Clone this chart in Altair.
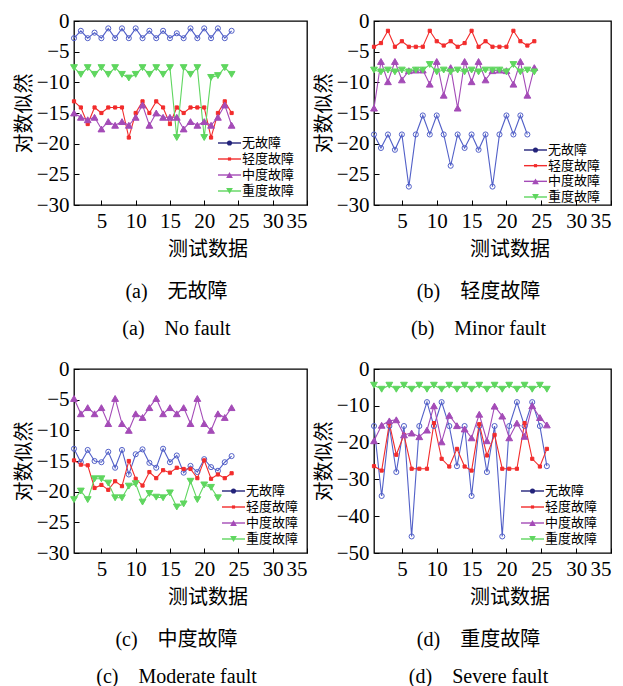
import altair as alt
import pandas as pd

series_names = ["无故障", "轻度故障", "中度故障", "重度故障"]
line_colors = ["#5260c8", "#f22c2c", "#a44bb7", "#5fd65f"]
legend_colors = ["#23237a", "#f22c2c", "#a44bb7", "#5fd65f"]
marker_shapes = ["circle", "square", "triangle-up", "triangle-down"]
marker_fills = ["transparent", "#f22c2c", "#a44bb7", "#5fd65f"]
marker_sizes = [26, 10, 46, 46]
x_ticks = [5, 10, 15, 20, 25, 30, 35]

# (a) 无故障
a_x = list(range(1, 25))
a_none = [-2.8, -1.6, -2.8, -1.9, -2.8, -1.2, -2.8, -1.2, -2.8, -1.2, -2.8, -1.6,
          -2.8, -1.6, -2.8, -2.0, -2.8, -1.2, -2.8, -1.2, -2.8, -1.2, -2.8, -1.6]
a_minor = [-13.1, -14.1, -16.8, -14.1, -15.0, -14.1, -14.1, -14.1, -19.0, -15.0, -13.1, -15.0,
           -13.1, -14.1, -16.8, -14.1, -15.0, -14.1, -14.1, -14.1, -19.0, -15.0, -13.1, -15.0]
a_moderate = [-15.0, -15.7, -16.1, -15.7, -17.6, -16.4, -17.0, -16.4, -17.0, -15.7, -13.7, -17.0,
              -15.0, -15.7, -15.7, -15.7, -17.6, -16.4, -17.0, -16.4, -17.0, -15.7, -13.7, -17.0]
a_severe = [-7.6, -8.7, -7.6, -8.7, -7.6, -8.7, -7.6, -8.7, -9.3, -8.7, -7.6, -8.7,
            -7.6, -8.7, -7.6, -19.0, -7.6, -8.7, -7.6, -19.0, -9.2, -8.9, -7.6, -8.7]

# (b) 轻度故障
b_x = list(range(1, 25))
b_none = [-18.5, -20.7, -18.5, -21.0, -18.5, -27.0, -18.5, -15.4, -18.5, -15.4, -18.5, -23.6,
          -18.5, -20.7, -18.5, -21.0, -18.5, -27.0, -18.5, -15.4, -18.5, -15.4, -18.5]
b_minor = [-4.2, -3.6, -1.6, -4.2, -3.3, -4.2, -4.2, -4.2, -1.6, -3.3, -4.0, -3.3,
           -4.2, -3.6, -1.6, -4.2, -3.3, -4.2, -4.2, -4.2, -1.6, -3.3, -4.0, -3.3]
b_moderate = [-14.2, -6.6, -9.9, -6.6, -9.6, -8.1, -8.0, -8.0, -10.3, -6.6, -12.1, -7.6,
              -14.2, -6.6, -9.9, -6.6, -9.6, -8.1, -8.0, -8.1, -10.3, -6.6, -12.1, -7.6]
b_severe = [-8.0, -8.3, -8.0, -8.3, -8.0, -8.3, -8.0, -8.0, -7.1, -8.3, -8.0, -8.3,
            -8.0, -8.3, -8.0, -8.3, -8.0, -8.0, -8.0, -8.3, -7.1, -8.3, -8.0, -8.3]

# (c) 中度故障
c_x = list(range(1, 25))
c_none = [-13.0, -15.2, -13.2, -15.0, -15.2, -13.5, -16.1, -13.2, -17.2, -13.9, -13.1, -15.3,
          -16.1, -13.0, -15.2, -14.1, -16.9, -15.8, -16.8, -14.7, -16.0, -16.6, -15.2, -14.2]
c_minor = [-14.9, -15.6, -15.7, -19.4, -18.9, -19.7, -18.3, -19.1, -15.0, -17.9, -19.0, -16.8,
           -17.8, -16.5, -16.9, -16.1, -16.3, -16.3, -17.8, -14.9, -17.9, -17.2, -17.8, -17.0]
c_moderate = [-4.8, -7.3, -6.3, -7.3, -6.3, -8.9, -4.8, -8.9, -10.0, -7.3, -7.9, -6.3,
              -4.8, -7.3, -6.3, -7.3, -6.3, -8.9, -4.8, -8.9, -10.0, -7.3, -7.9, -6.3]
c_severe = [-21.3, -19.9, -21.3, -17.9, -17.9, -18.6, -21.0, -21.0, -19.1, -18.7, -21.7,
            -20.3, -20.9, -21.0, -20.2, -22.5, -22.0, -18.3, -21.3, -18.9, -19.3, -21.0]

# (d) 重度故障
d_x = [1.0, 2.1, 3.2, 4.2, 5.3, 6.4, 7.5, 8.6, 9.6, 10.7, 11.8, 12.9,
       14.0, 15.0, 16.1, 17.2, 18.3, 19.4, 20.4, 21.5, 22.6, 23.7, 24.8, 25.8]
d_none = [-15.5, -34.5, -15.5, -28.0, -15.5, -45.5, -15.5, -9.0, -15.5, -9.0, -15.5, -26.4,
          -15.5, -34.5, -15.5, -28.0, -15.5, -45.5, -15.5, -9.0, -15.5, -9.0, -15.5, -26.4]
d_minor = [-26.4, -27.6, -14.8, -23.3, -17.9, -27.1, -27.1, -27.1, -14.7, -24.4, -26.5, -21.7,
           -26.5, -27.6, -15.0, -23.5, -17.9, -27.1, -27.1, -27.1, -14.7, -24.4, -26.5, -21.7]
d_moderate = [-19.5, -15.3, -14.1, -13.8, -17.9, -17.4, -18.4, -16.6, -10.0, -19.8, -12.6, -15.4,
              -16.3, -18.7, -12.3, -19.5, -10.1, -12.8, -18.7, -14.7, -18.3, -10.0, -13.2, -15.2]
d_severe = [-4.4, -5.5, -4.4, -5.5, -4.4, -5.5, -4.4, -5.5, -4.4, -5.5, -4.4, -5.5,
            -4.4, -5.5, -4.4, -5.5, -4.4, -5.5, -4.4, -5.5, -4.4, -5.5, -4.4, -5.5]

CJK = "Noto Sans CJK SC"
SERIF = "Liberation Serif"
CAP_FONT = "Liberation Serif, Noto Sans CJK SC"


def panel(xs, series, ymin, ystep, width, cap_cn, cap_en, leg_x, leg_y):
    rows = []
    for name, vals in zip(series_names, series):
        for xv, yv in zip(xs, vals):
            rows.append({"x": xv, "y": yv, "s": name})
    df = pd.DataFrame(rows)

    xenc = alt.X("x:Q", scale=alt.Scale(domain=[1, 35], nice=False, zero=False),
                 axis=alt.Axis(values=x_ticks, title="测试数据", titleX=width / 2 + 17))
    yenc = alt.Y("y:Q", scale=alt.Scale(domain=[ymin, 0], nice=False, zero=False),
                 axis=alt.Axis(values=list(range(ymin, 1, ystep)), title="对数似然"))
    col = alt.Color("s:N", scale=alt.Scale(domain=series_names, range=line_colors), legend=None)
    shp = alt.Shape("s:N", scale=alt.Scale(domain=series_names, range=marker_shapes), legend=None)
    siz = alt.Size("s:N", scale=alt.Scale(type="ordinal", domain=series_names, range=marker_sizes),
                   legend=None)
    fil = alt.Fill("s:N", scale=alt.Scale(domain=series_names, range=marker_fills), legend=None)

    base = alt.Chart(df)
    lines = base.mark_line(strokeWidth=1.1).encode(x=xenc, y=yenc, color=col)
    pts = base.mark_point(opacity=1, strokeWidth=1).encode(
        x=xenc, y=yenc, color=col, fill=fil, shape=shp, size=siz)
    main = alt.layer(lines, pts)

    ldf = pd.DataFrame({"s": series_names})
    ly = alt.Y("s:N", sort=series_names,
               scale=alt.Scale(type="point", domain=series_names, range=leg_y, padding=0),
               axis=None)
    lcol = alt.Color("s:N", scale=alt.Scale(domain=series_names, range=legend_colors), legend=None)
    lb = alt.Chart(ldf)
    lrule = lb.mark_rule(strokeWidth=1.4).encode(
        x=alt.value(leg_x), x2=alt.value(leg_x + 23), y=ly, color=lcol)
    lpt = lb.mark_point(filled=True, opacity=1).encode(
        x=alt.value(leg_x + 11.5), y=ly, color=lcol, shape=shp, size=siz)
    ltxt = lb.mark_text(align="left", baseline="middle", font=CJK, fontSize=13).encode(
        x=alt.value(leg_x + 24), y=ly, text="s:N", color=alt.value("black"))
    leg = alt.layer(lrule, lpt, ltxt)

    return alt.layer(main, leg).resolve_scale(y="independent", color="independent").properties(
        width=width, height=184,
        title=alt.TitleParams(text=[cap_cn, cap_en], orient="bottom", anchor="middle",
                              font=CAP_FONT, fontSize=20, fontWeight="normal",
                              lineHeight=37, offset=23, dx=-14, color="black"))


pa = panel(a_x, [a_none, a_minor, a_moderate, a_severe], -30, 5, 233,
           "(a)\u2003无故障", "(a)\u2003No fault", 144, [122, 170])
pb = panel(b_x, [b_none, b_minor, b_moderate, b_severe], -30, 5, 237,
           "(b)\u2003轻度故障", "(b)\u2003Minor fault", 150, [129, 176])
pc = panel(c_x, [c_none, c_minor, c_moderate, c_severe], -30, 5, 233,
           "(c)\u2003中度故障", "(c)\u2003Moderate fault", 148, [122, 170])
pd_ = panel(d_x, [d_none, d_minor, d_moderate, d_severe], -50, 10, 237,
            "(d)\u2003重度故障", "(d)\u2003Severe fault", 147, [122, 170])

chart = alt.concat(pa, pb, pc, pd_, columns=2, spacing={"row": 164, "column": 67},
                   bounds="flush").properties(
    padding={"left": 5, "top": 1, "right": 0, "bottom": 0}
).configure_view(
    stroke="black", strokeWidth=1.3
).configure_axis(
    labelFont=SERIF, labelFontSize=21, labelColor="black",
    titleFont=CJK, titleFontSize=20, titleFontWeight="normal", titleColor="black",
    domain=False, ticks=True, tickSize=5, tickColor="black", offset=-5,
    labelPadding=5, grid=False
).configure_axisY(titlePadding=2).configure_axisX(titlePadding=8)

chart.save("out.html", embed_options={"renderer": "svg", "actions": False})
